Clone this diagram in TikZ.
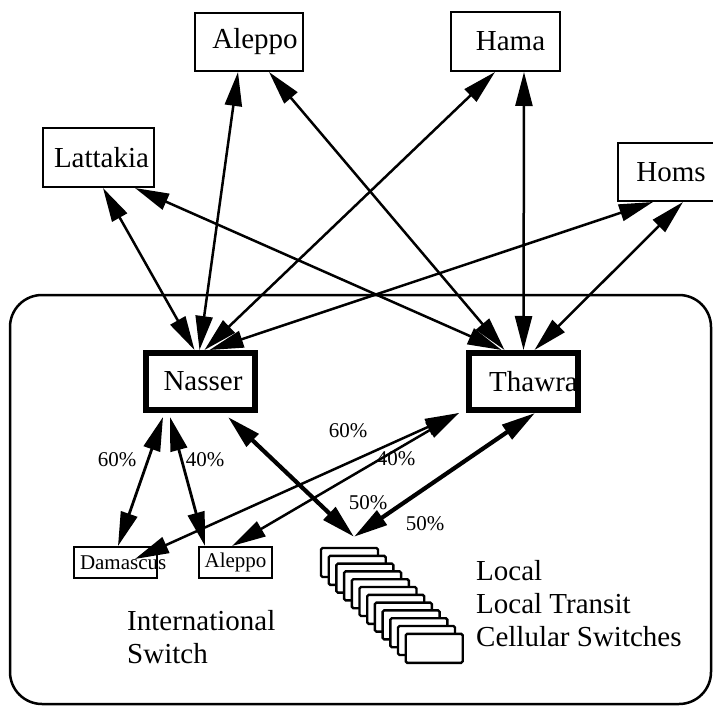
\documentclass[tikz,border=0pt]{standalone}
\usepackage{fontspec}
\setmainfont{Liberation Serif}
\usetikzlibrary{arrows.meta,calc}

\begin{document}
\begin{tikzpicture}[x=1pt,y=-1pt,
  bigfont/.style={font=\fontsize{29}{33}\selectfont},
  box/.style={draw,line width=2pt,fill=white,inner sep=0pt,bigfont},
  hub/.style={draw,line width=6pt,fill=white,inner sep=0pt,bigfont,
    minimum width=109pt,minimum height=57pt},
  smallbox/.style={draw,line width=2pt,fill=white,inner sep=0pt,
    minimum width=73pt,minimum height=31pt,font=\fontsize{21}{24}\selectfont},
  swbox/.style={draw,line width=2.4pt,fill=white,rounded corners=1.5pt,
    minimum width=57pt,minimum height=29pt,inner sep=0pt},
  link/.style={line width=2.5pt,
    {Triangle[length=34pt 0,width=17pt 0]}-{Triangle[length=34pt 0,width=17pt 0]}},
  heavy/.style={link,line width=4.2pt},
  pct/.style={font=\fontsize{21}{24}\selectfont,inner sep=0pt},
  caption/.style={bigfont,align=left,inner sep=0pt,anchor=west}
]
\useasboundingbox (0,0) rectangle (713,706);

% Damascus switching area
\draw[line width=2.5pt,rounded corners=32pt] (10,295) rectangle (711,704);

% regional centres
\node[box,minimum width=108pt,minimum height=58pt] (alep) at (249,42) {\hspace*{12pt}Aleppo};
\node[box,minimum width=109pt,minimum height=59pt] (hama) at (505.5,41.5) {\hspace*{10pt}Hama};
\node[box,minimum width=111pt,minimum height=59pt] (lat) at (98.5,157.5) {\hspace*{6pt}Lattakia};
\node[box,minimum width=110pt,minimum height=58pt] (homs) at (673,172) {Homs\hspace*{4pt}};

% tandem exchanges
\node[hub] (nas) at (200.5,381.5) {\hspace*{5pt}Nasser};
\node[hub] (thw) at (523.5,381.5) {\hspace*{20pt}Thawra};
\draw[line width=6pt] ([shift={(3pt,-3pt)}]thw.north west) rectangle ([shift={(-3pt,3pt)}]thw.south east);

% international switches
\node[smallbox,minimum width=83pt] (dam) at (115.5,562.5) {\makebox[71pt][l]{Damascus}};
\node[smallbox] (alep2) at (235.5,562.5) {Aleppo};

% stack of local / transit / cellular switches
\foreach \i in {0,...,11}
  \node[swbox] (sw\i) at (349.5+7.7*\i,562.5+7.8*\i) {};
\coordinate (ctip) at ($(sw0.north)+(4.5,-10)$);

% captions
\node[caption] (intl) at (127,637) {International\\Switch};
\node[caption] (kinds) at (476,604) {Local\\Local Transit\\Cellular Switches};

% links to the regional centres
\draw[link] ($(lat.south)+(4.5,0)$) -- ($(nas.north)+(-6,0)$);
\draw[link] ($(lat.south)+(36.5,0)$) -- ($(thw.north)+(-22,0)$);
\draw[link] ($(alep.south)+(-11,0)$) -- ($(nas.north)+(-1,0)$);
\draw[link] ($(alep.south)+(20,0)$) -- ($(thw.north)+(-19,0)$);
\draw[link] ($(hama.south)+(-10.5,0)$) -- ($(nas.north)+(4,0)$);
\draw[link] ($(hama.south)+(18.5,0)$) -- (thw.north);
\draw[link] ($(homs.south)+(-20,0)$) -- ($(nas.north)+(9,0)$);
\draw[link] ($(homs.south)+(10,0)$) -- ($(thw.north)+(11,0)$);

% links inside the area
\draw[link,line width=2.8pt] ($(nas.south)+(-37.5,4)$) -- ($(dam.north)+(2.5,0)$);
\draw[link,line width=2.8pt] ($(nas.south)+(-30.5,4)$) -- ($(alep2.north)+(-30.5,0)$);
\draw[heavy] ($(nas.south)+(27.5,4)$) -- (ctip);
\draw[link] ($(thw.south west)+(-7,0)$) -- ($(dam.north)+(19.5,13)$);
\draw[link] ($(thw.south west)+(-7,0)$) -- ($(alep2.north)+(-3.5,0)$);
\draw[heavy] ($(thw.south)+(11.5,0)$) -- (ctip);

% traffic shares
\node[pct] (p1) at (117,460) {60\%};
\node[pct] (p2) at (205,460) {40\%};
\node[pct] (p3) at (348,431) {60\%};
\node[pct] (p4) at (396,459) {40\%};
\node[pct] (p5) at (368,503) {50\%};
\node[pct] (p6) at (425,524) {50\%};
\end{tikzpicture}
\end{document}
